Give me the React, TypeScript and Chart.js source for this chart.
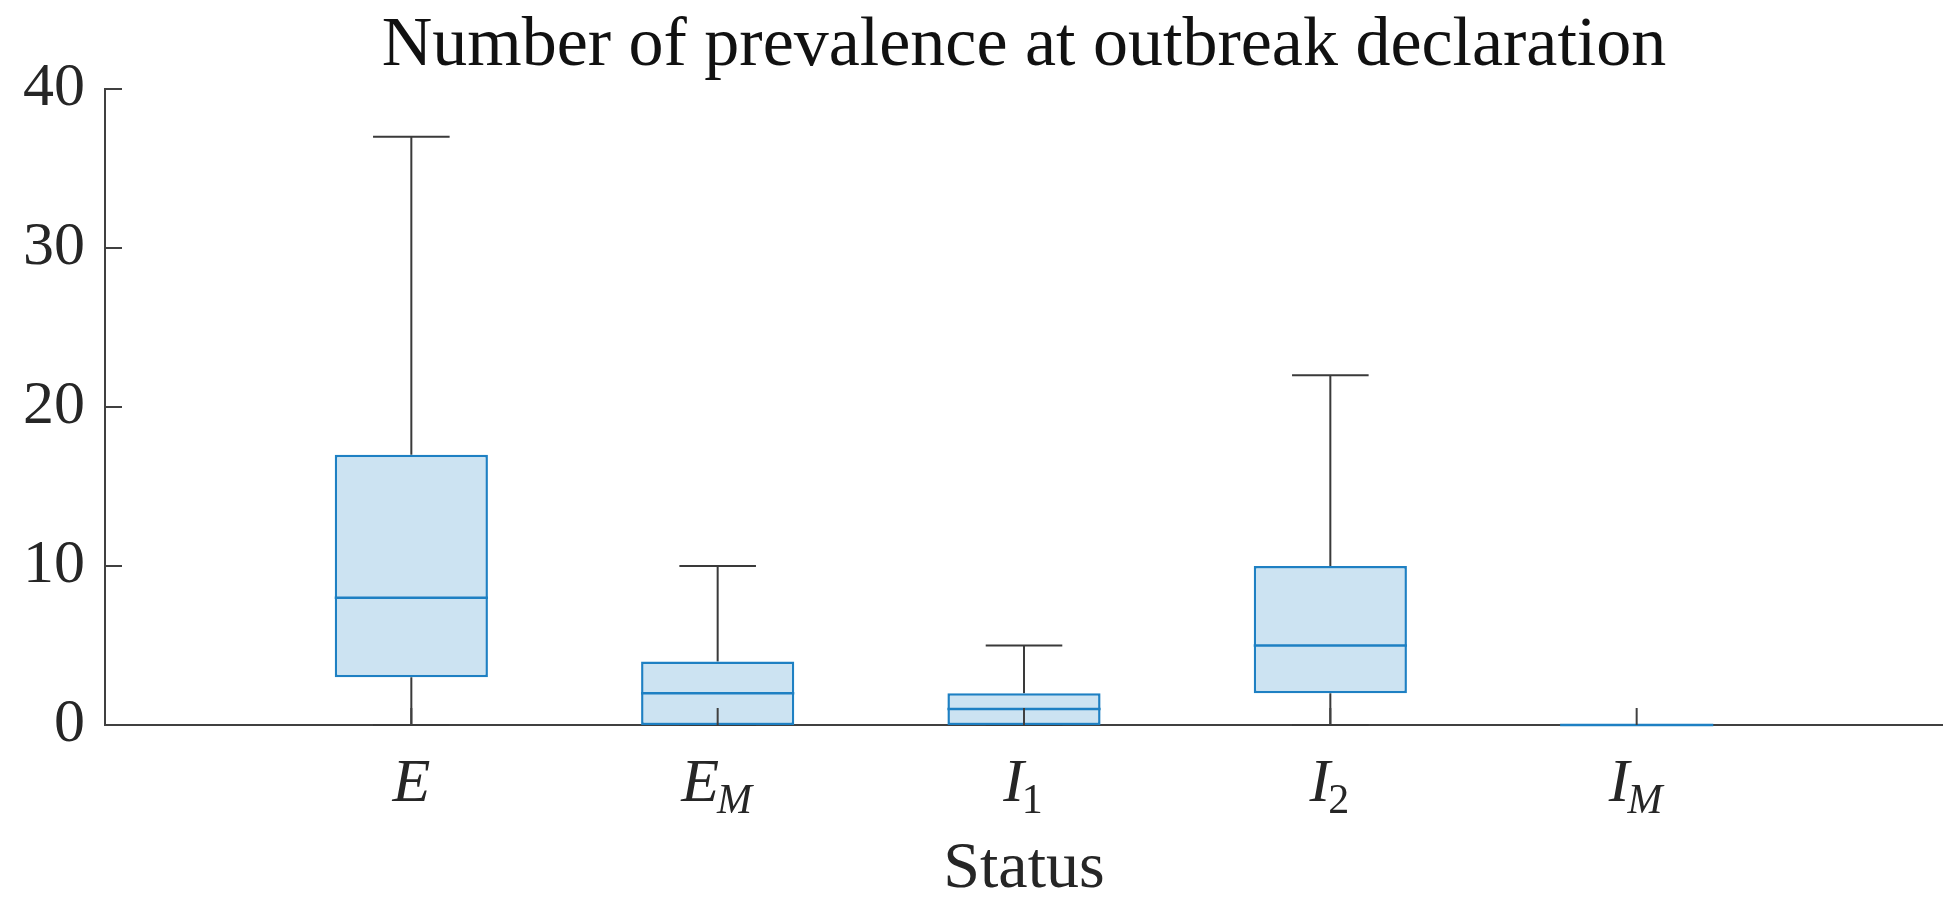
import React, { useEffect, useRef } from "react";
import { Chart, registerables } from "chart.js";

Chart.register(...registerables);

const titleText = "Number of prevalence at outbreak declaration";
const xAxisTitle = "Status";
const categories = ["E", "E_M", "I_1", "I_2", "I_M"];
const labelMain = ["E", "E", "I", "I", "I"];
const labelSub = ["", "M", "1", "2", "M"];
const xPositions = [1, 2, 3, 4, 5];
const whiskerLow = [0, 0, 0, 0, 0];
const q1 = [3, 0, 0, 2, 0];
const median = [8, 2, 1, 5, 0];
const q3 = [17, 4, 2, 10, 0];
const whiskerHigh = [37, 10, 5, 22, 0];
const yTicks = [0, 10, 20, 30, 40];

const SERIF = "'Liberation Serif', 'DejaVu Serif', serif";
const BOX_EDGE = "rgb(30,128,195)";
const BOX_FILL = "rgb(204,227,242)";
const WHISKER = "#3a3a3a";
const AXIS = "#404040";
const TEXT = "#262626";

const boxPlugin = {
  id: "boxParts",
  beforeDatasetsDraw(chart: any) {
    const ctx = chart.ctx;
    const xs = chart.scales.x;
    const ys = chart.scales.y;
    const meta = chart.getDatasetMeta(0);
    ctx.save();
    ctx.strokeStyle = WHISKER;
    ctx.lineWidth = 2;
    xPositions.forEach((xv, i) => {
      const x = xs.getPixelForValue(xv);
      const half = (meta.data[i]?.width || 150) / 2;
      const cap = half / 2;
      const segs: [number, number][] = [
        [q3[i], whiskerHigh[i]],
        [q1[i], whiskerLow[i]],
      ];
      segs.forEach(([a, b]) => {
        const ya = ys.getPixelForValue(a);
        const yb = ys.getPixelForValue(b);
        ctx.beginPath();
        ctx.moveTo(x, ya);
        ctx.lineTo(x, yb);
        ctx.moveTo(x - cap, yb);
        ctx.lineTo(x + cap, yb);
        ctx.stroke();
      });
    });
    ctx.restore();
  },
  afterDatasetsDraw(chart: any) {
    const ctx = chart.ctx;
    const xs = chart.scales.x;
    const ys = chart.scales.y;
    const meta = chart.getDatasetMeta(0);
    ctx.save();
    ctx.strokeStyle = BOX_EDGE;
    ctx.lineWidth = 2.5;
    xPositions.forEach((xv, i) => {
      const x = xs.getPixelForValue(xv);
      const half = (meta.data[i]?.width || 150) / 2;
      const y = ys.getPixelForValue(median[i]);
      ctx.beginPath();
      ctx.moveTo(x - half, y);
      ctx.lineTo(x + half, y);
      ctx.stroke();
    });
    const area = chart.chartArea;
    const len = 17;
    ctx.strokeStyle = AXIS;
    ctx.lineWidth = 2;
    yTicks.forEach((v) => {
      const y = ys.getPixelForValue(v);
      ctx.beginPath();
      ctx.moveTo(area.left, y);
      ctx.lineTo(area.left + len, y);
      ctx.stroke();
    });
    xPositions.forEach((v) => {
      const x = xs.getPixelForValue(v);
      ctx.beginPath();
      ctx.moveTo(x, area.bottom);
      ctx.lineTo(x, area.bottom - len);
      ctx.stroke();
    });
    ctx.restore();
  },
  afterDraw(chart: any) {
    const ctx = chart.ctx;
    const xs = chart.scales.x;
    const area = chart.chartArea;
    const mainFont = `italic 62px ${SERIF}`;
    const baseY = area.bottom + 76;
    ctx.save();
    ctx.fillStyle = TEXT;
    ctx.textBaseline = "alphabetic";
    ctx.textAlign = "left";
    xPositions.forEach((v, i) => {
      const x = xs.getPixelForValue(v);
      const sub = labelSub[i];
      const subFont = /^[0-9]+$/.test(sub) ? `42px ${SERIF}` : `italic 42px ${SERIF}`;
      ctx.font = mainFont;
      const mw = ctx.measureText(labelMain[i]).width;
      ctx.font = subFont;
      const sw = sub ? ctx.measureText(sub).width : 0;
      const start = x - (mw + sw) / 2;
      ctx.font = mainFont;
      ctx.fillText(labelMain[i], start, baseY);
      if (sub) {
        ctx.font = subFont;
        ctx.fillText(sub, start + mw - 2, baseY + 12);
      }
    });
    ctx.restore();
  },
};

export default function App() {
  const ref = useRef<HTMLCanvasElement | null>(null);
  useEffect(() => {
    if (!ref.current) return;
    const chart = new Chart(ref.current, {
      type: "bar",
      data: {
        labels: categories,
        datasets: [
          {
            label: "Prevalence",
            data: xPositions.map((x, i) => ({ x, y: [q1[i], q3[i]] })) as any,
            backgroundColor: BOX_FILL,
            borderColor: BOX_EDGE,
            borderWidth: 2.5,
            borderSkipped: false,
            barPercentage: 0.5,
            categoryPercentage: 1,
          },
        ],
      },
      options: {
        responsive: false,
        animation: false,
        layout: { padding: { left: 0, right: 0, top: 0, bottom: 0 } },
        plugins: {
          legend: { display: false },
          tooltip: { enabled: false },
          title: {
            display: true,
            fullSize: false,
            text: titleText,
            color: "#111",
            font: { family: SERIF, size: 70, weight: "normal" },
            padding: { top: 5, bottom: 0 },
          },
        },
        scales: {
          x: {
            type: "linear",
            min: 0,
            max: 6,
            offset: false,
            grid: { display: false, drawTicks: false, offset: false },
            border: { display: true, color: AXIS, width: 2 },
            ticks: { display: false, stepSize: 1 },
            title: {
              display: true,
              text: xAxisTitle,
              color: TEXT,
              font: { family: SERIF, size: 66 },
              padding: { top: 0, bottom: -9 },
            },
            afterFit: (s: any) => {
              s.height = 175;
            },
          },
          y: {
            min: 0,
            max: 40,
            grid: { display: false, drawTicks: false },
            border: { display: true, color: AXIS, width: 2 },
            ticks: {
              stepSize: 10,
              color: TEXT,
              padding: 20,
              font: { family: SERIF, size: 62 },
            },
            afterFit: (s: any) => {
              s.width = 105;
            },
          },
        },
      },
      plugins: [boxPlugin],
    });
    return () => chart.destroy();
  }, []);
  return (
    <div style={{ position: "absolute", left: 0, top: 0, width: 1943, height: 900, background: "#fff" }}>
      <canvas ref={ref} width={1943} height={900} />
    </div>
  );
}
